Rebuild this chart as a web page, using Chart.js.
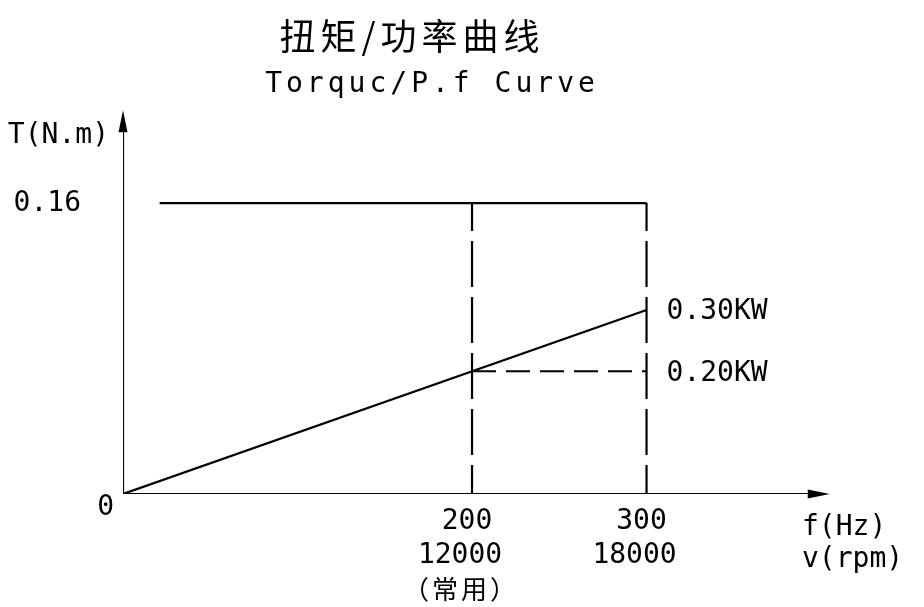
<!DOCTYPE html>
<html>
<head>
<meta charset="utf-8">
<script src="https://cdn.jsdelivr.net/npm/chart.js"></script>
<style>
  html, body { margin: 0; padding: 0; background: #fff; }
  #wrap { width: 924px; height: 607px; }
</style>
</head>
<body>
<div id="wrap"><canvas id="torqueChart" width="924" height="607"></canvas></div>
<script>
// values
const freqTicks = [200, 300];          // f (Hz)
const speedTicks = [12000, 18000];     // v (rpm)
const noteTicks = ["（常用）", ""];
const torqueRated = 0.16;              // T (N.m), flat top line
const torqueAtTicks = [0.0675, 0.1012]; // rising line value at 200 / 300 Hz
const plateauStart = 21;               // Hz where the flat line begins
const powerLabels = ["0.20KW", "0.30KW"];
const axisEndX = 405;
const axisEndY = 0.211;

const ink = "#000";
const mono = "DejaVu Sans Mono";

const drawingText = {
  id: "drawingText",
  afterDraw(chart) {
    const { ctx } = chart;
    const x = chart.scales.x, y = chart.scales.y;
    const x0 = x.getPixelForValue(0), y0 = y.getPixelForValue(0);
    ctx.save();
    ctx.fillStyle = ink;
    ctx.strokeStyle = ink;

    // arrow heads
    const tipY = y.getPixelForValue(axisEndY);
    ctx.beginPath();
    ctx.moveTo(x0, tipY);
    ctx.lineTo(x0 - 4.5, tipY + 22);
    ctx.lineTo(x0 + 4.5, tipY + 22);
    ctx.closePath();
    ctx.fill();
    const tipX = x.getPixelForValue(axisEndX);
    ctx.beginPath();
    ctx.moveTo(tipX, y0);
    ctx.lineTo(tipX - 22, y0 - 4.5);
    ctx.lineTo(tipX - 22, y0 + 4.5);
    ctx.closePath();
    ctx.fill();

    // titles
    ctx.textBaseline = "middle";
    ctx.textAlign = "center";
    ctx.font = "36px 'Noto Sans CJK SC'";
    ctx.letterSpacing = "5px";
    ctx.fillText("扭矩/功率曲线", 412, 36);
    ctx.font = "28px '" + mono + "'";
    ctx.letterSpacing = "4px";
    ctx.fillText("Torquc/P.f Curve", 432, 85);
    ctx.letterSpacing = "0px";

    // y axis
    ctx.textAlign = "right";
    ctx.fillText("T(N.m)", x0 - 14, 136);
    ctx.fillText(torqueRated.toFixed(2), x0 - 42, y.getPixelForValue(torqueRated) + 1);
    ctx.fillText("0", x0 - 9, y0 + 14);

    // x axis ticks
    ctx.textAlign = "center";
    freqTicks.forEach((f, i) => {
      const px = x.getPixelForValue(f);
      ctx.font = "28px '" + mono + "'";
      ctx.fillText(String(f), px - 5, y0 + 28);
      ctx.fillText(String(speedTicks[i]), px - 12, y0 + 62);
      if (noteTicks[i]) {
        ctx.font = "26px 'Noto Sans CJK SC'";
        ctx.letterSpacing = "3px";
        ctx.fillText(noteTicks[i], px - 11, y0 + 95);
        ctx.letterSpacing = "0px";
      }
    });

    // axis names
    ctx.font = "28px '" + mono + "'";
    ctx.textAlign = "left";
    ctx.fillText("f(Hz)", 802, y0 + 34);
    ctx.fillText("v(rpm)", 802, y0 + 66);

    // power labels
    powerLabels.forEach((lab, i) => {
      ctx.fillText(lab, x.getPixelForValue(freqTicks[1]) + 20, y.getPixelForValue(torqueAtTicks[i]) + 2);
    });
    ctx.restore();
  }
};

const seg = (pts, dash, offset) => ({
  data: pts,
  showLine: true,
  borderColor: ink,
  borderWidth: 2.2,
  pointRadius: 0,
  borderDash: dash || [],
  borderDashOffset: offset || 0,
  tension: 0
});

new Chart(document.getElementById("torqueChart"), {
  type: "scatter",
  data: {
    datasets: [
      // axes
      seg([{ x: 0, y: 0 }, { x: axisEndX - 10, y: 0 }]),
      seg([{ x: 0, y: 0 }, { x: 0, y: axisEndY - 0.005 }]),
      // rated torque line
      seg([{ x: plateauStart, y: torqueRated }, { x: freqTicks[1], y: torqueRated }]),
      // rising torque line
      seg([{ x: 0, y: 0 }, { x: freqTicks[1], y: torqueAtTicks[1] }]),
      // dashed verticals
      seg([{ x: freqTicks[0], y: torqueRated }, { x: freqTicks[0], y: 0 }], [46, 10], 18),
      seg([{ x: freqTicks[1], y: torqueRated }, { x: freqTicks[1], y: 0 }], [46, 10], 18),
      // dashed horizontal at 0.20KW
      seg([{ x: freqTicks[0], y: torqueAtTicks[0] }, { x: freqTicks[1], y: torqueAtTicks[0] }], [24, 10], 0)
    ]
  },
  options: {
    responsive: false,
    animation: false,
    events: [],
    layout: { padding: { left: 123, right: 85.5, top: 94, bottom: 113 } },
    plugins: { legend: { display: false }, tooltip: { enabled: false } },
    scales: {
      x: { type: "linear", min: 0, max: 410, display: false },
      y: { type: "linear", min: 0, max: 0.22, display: false }
    }
  },
  plugins: [drawingText]
});
</script>
</body>
</html>
